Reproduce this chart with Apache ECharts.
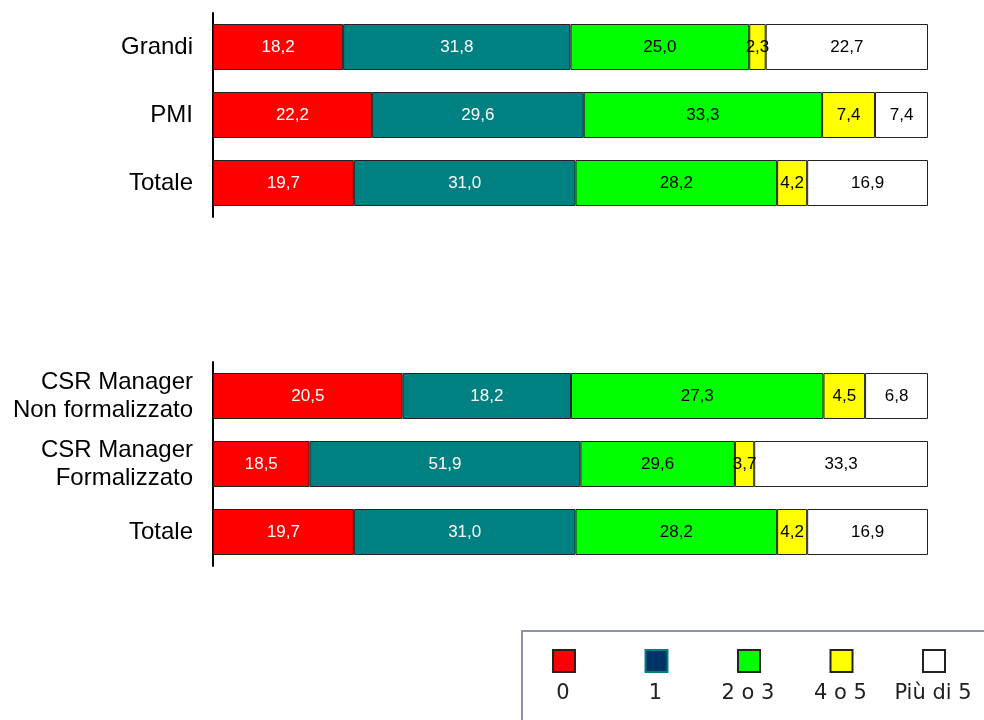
<!DOCTYPE html>
<html>
<head>
<meta charset="utf-8">
<script src="https://cdn.jsdelivr.net/npm/echarts@6/dist/echarts.min.js"></script>
<style>
  html, body { margin: 0; padding: 0; background: #fff; }
  #chart { width: 984px; height: 720px; }
</style>
</head>
<body>
<div id="chart"></div>
<script>
// categorie
const topCategories = ['Grandi', 'PMI', 'Totale'];
const bottomCategories = ['CSR Manager\nNon formalizzato', 'CSR Manager\nFormalizzato', 'Totale'];
const seriesNames = ['0', '1', '2 o 3', '4 o 5', 'Più di 5'];

// valori per riga (0, 1, 2 o 3, 4 o 5, Più di 5)
const grandi = [18.2, 31.8, 25.0, 2.3, 22.7];
const pmi = [22.2, 29.6, 33.3, 7.4, 7.4];
const totale = [19.7, 31.0, 28.2, 4.2, 16.9];
const nonFormalizzato = [20.5, 18.2, 27.3, 4.5, 6.8];
const formalizzato = [18.5, 51.9, 29.6, 3.7, 33.3];

const topRows = [grandi, pmi, totale];
const bottomRows = [nonFormalizzato, formalizzato, totale];

const colors = ['#ff0000', '#008080', '#00ff00', '#ffff00', '#ffffff'];
const labelColors = ['#ffffff', '#ffffff', '#000000', '#000000', '#000000'];

const sum = (r) => r.reduce((a, b) => a + b, 0);
const fmt = (v) => v.toFixed(1).replace('.', ',');

// ogni barra riempie il 100%, l'etichetta mostra il valore originale
const makeSeries = (rows, gridIndex) =>
  seriesNames.map((name, s) => ({
    name: name,
    type: 'bar',
    stack: 'g' + gridIndex,
    xAxisIndex: gridIndex,
    yAxisIndex: gridIndex,
    barWidth: 46,
    itemStyle: { color: colors[s], borderColor: '#222', borderWidth: 1 },
    label: {
      show: true,
      position: 'inside',
      color: labelColors[s],
      fontFamily: 'Liberation Sans',
      fontSize: 17,
      formatter: (p) => fmt(p.data.raw)
    },
    emphasis: { disabled: true },
    data: rows.map((r) => ({ value: (r[s] / sum(r)) * 100, raw: r[s] }))
  }));

const yAxisCommon = {
  type: 'category',
  inverse: true,
  axisLine: { show: true, lineStyle: { color: '#000', width: 2 } },
  axisTick: { show: false },
  axisLabel: {
    color: '#000',
    fontFamily: 'Liberation Sans',
    fontSize: 24,
    lineHeight: 28,
    margin: 20,
    align: 'right'
  }
};

const xAxisCommon = { type: 'value', min: 0, max: 100, show: false };

const chart = echarts.init(document.getElementById('chart'));
chart.setOption({
  animation: false,
  backgroundColor: '#fff',
  grid: [
    { left: 213, right: 56, top: 13, height: 204 },
    { left: 213, right: 56, top: 362, height: 204 }
  ],
  xAxis: [
    Object.assign({ gridIndex: 0 }, xAxisCommon),
    Object.assign({ gridIndex: 1 }, xAxisCommon)
  ],
  yAxis: [
    Object.assign({ gridIndex: 0, data: topCategories }, yAxisCommon),
    Object.assign({ gridIndex: 1, data: bottomCategories }, yAxisCommon)
  ],
  // una legenda per voce, testo disegnato sotto l'icona
  legend: seriesNames.map((name, i) => ({
    data: [i === 1
      ? { name: name, itemStyle: { color: '#003366', borderColor: '#008080' } }
      : { name: name }],
    left: 552 + i * 92.5,
    top: 649,
    padding: 0,
    icon: 'rect',
    itemWidth: 22,
    itemHeight: 22,
    formatter: () => ''
  })),
  graphic: [
    {
      type: 'rect',
      shape: { x: 522, y: 631, width: 480, height: 110 },
      style: { fill: 'none', stroke: '#8e91ae', lineWidth: 2 }
    }
  ].concat(seriesNames.map((name, i) => ({
    type: 'text',
    x: 563 + i * 92.5,
    y: 694,
    style: {
      text: name,
      fill: '#222',
      font: '21px "DejaVu Sans"',
      textAlign: 'center',
      textVerticalAlign: 'middle'
    }
  }))),
  series: makeSeries(topRows, 0).concat(makeSeries(bottomRows, 1))
});
</script>
</body>
</html>
